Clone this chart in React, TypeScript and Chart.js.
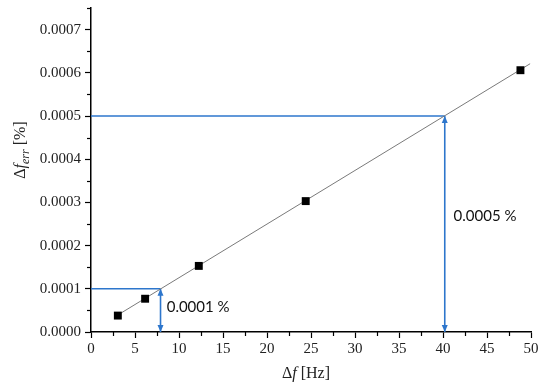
import React, { useEffect, useRef } from "react";
import { Chart, registerables } from "chart.js";

Chart.register(...registerables);

const freqs = [3.05, 6.15, 12.25, 24.4, 48.8];
const errs = [0.000038, 0.000077, 0.000153, 0.000303, 0.000606];
const fitX = [3.1, 49.9];
const fitY = [0.00004, 0.000621];
const markX = [7.9, 40.2];
const markY = [0.0001, 0.0005];
const markLabels = ["0.0001 %", "0.0005 %"];
const labelX = [8.6, 41.2];
const labelY = [0.0000575, 0.000268];
const xTickStep = 2.5;
const yTickStep = 0.00005;

const BLUE = "#2d76cc";
const SERIF = "'Liberation Serif', 'DejaVu Serif', serif";
const SANS = "Lato, 'Open Sans', sans-serif";

const overlay = {
  id: "overlay",
  afterDatasetsDraw(chart: any) {
    const ctx = chart.ctx;
    const xs = chart.scales.x;
    const ys = chart.scales.y;
    ctx.save();
    // minor ticks
    ctx.strokeStyle = "#000";
    ctx.lineWidth = 1.2;
    xs.ticks.forEach((t: any, i: number) => {
      if (i % 2 === 1) {
        const px = Math.round(xs.getPixelForValue(t.value)) + 0.5;
        ctx.beginPath();
        ctx.moveTo(px, xs.top);
        ctx.lineTo(px, xs.top + 4);
        ctx.stroke();
      }
    });
    ys.ticks.forEach((t: any, i: number) => {
      if (i % 2 === 1) {
        const py = Math.round(ys.getPixelForValue(t.value)) + 0.5;
        ctx.beginPath();
        ctx.moveTo(ys.right, py);
        ctx.lineTo(ys.right - 4, py);
        ctx.stroke();
      }
    });
    // arrowheads
    ctx.fillStyle = BLUE;
    markX.forEach((mx, i) => {
      const px = xs.getPixelForValue(mx);
      const pTop = ys.getPixelForValue(markY[i]);
      const pBot = ys.getPixelForValue(0);
      ctx.beginPath();
      ctx.moveTo(px, pTop);
      ctx.lineTo(px - 3, pTop + 7);
      ctx.lineTo(px + 3, pTop + 7);
      ctx.closePath();
      ctx.fill();
      ctx.beginPath();
      ctx.moveTo(px, pBot);
      ctx.lineTo(px - 3, pBot - 7);
      ctx.lineTo(px + 3, pBot - 7);
      ctx.closePath();
      ctx.fill();
    });
    // annotation texts
    ctx.fillStyle = "#111";
    ctx.font = `15px ${SANS}`;
    ctx.textBaseline = "middle";
    ctx.textAlign = "left";
    markLabels.forEach((s, i) => {
      ctx.fillText(s, xs.getPixelForValue(labelX[i]), ys.getPixelForValue(labelY[i]));
    });
    // axis titles
    ctx.fillStyle = "#222";
    ctx.textBaseline = "alphabetic";
    const drawParts = (parts: any[], cx: number, cy: number) => {
      let w = 0;
      parts.forEach((p) => {
        ctx.font = p.font;
        w += ctx.measureText(p.t).width;
      });
      let x = cx - w / 2;
      parts.forEach((p) => {
        ctx.font = p.font;
        ctx.fillText(p.t, x, cy + (p.dy || 0));
        x += ctx.measureText(p.t).width;
      });
    };
    drawParts(
      [
        { t: "Δ", font: `16px ${SERIF}` },
        { t: "f", font: `italic 16px ${SERIF}` },
        { t: " [Hz]", font: `16px ${SERIF}` },
      ],
      306,
      378
    );
    ctx.save();
    ctx.translate(25, 150);
    ctx.rotate(-Math.PI / 2);
    drawParts(
      [
        { t: "Δ", font: `16px ${SERIF}` },
        { t: "f", font: `italic 16px ${SERIF}` },
        { t: "err", font: `italic 12px ${SERIF}`, dy: 4 },
        { t: " [%]", font: `16px ${SERIF}` },
      ],
      0,
      0
    );
    ctx.restore();
    ctx.restore();
  },
};

export default function App() {
  const ref = useRef<HTMLCanvasElement>(null);
  useEffect(() => {
    const pts = freqs.map((f, i) => ({ x: f, y: errs[i] }));
    const fit = fitX.map((f, i) => ({ x: f, y: fitY[i] }));
    const blueSets = markX.flatMap((mx, i) => [
      {
        data: [
          { x: 0, y: markY[i] },
          { x: mx, y: markY[i] },
        ],
        borderColor: BLUE,
        borderWidth: 1.6,
        pointRadius: 0,
        showLine: true,
        order: 3,
      },
      {
        data: [
          { x: mx, y: 0 },
          { x: mx, y: markY[i] },
        ],
        borderColor: BLUE,
        borderWidth: 1.6,
        pointRadius: 0,
        showLine: true,
        order: 3,
      },
    ]);
    const chart = new Chart(ref.current!, {
      type: "scatter",
      data: {
        datasets: [
          {
            data: pts,
            pointStyle: "rect",
            pointRadius: 5.6,
            pointBackgroundColor: "#000",
            pointBorderColor: "#000",
            pointBorderWidth: 0,
            showLine: false,
            order: 1,
          },
          {
            data: fit,
            borderColor: "#7a7a7a",
            borderWidth: 1,
            pointRadius: 0,
            showLine: true,
            order: 2,
          },
          ...blueSets,
        ] as any,
      },
      options: {
        animation: false,
        responsive: false,
        layout: { padding: { top: 8, right: 19, left: 0, bottom: 0 } },
        plugins: { legend: { display: false }, tooltip: { enabled: false } },
        scales: {
          x: {
            type: "linear",
            min: 0,
            max: 50,
            afterFit: (s: any) => {
              s.height = 57;
              s.paddingLeft = 0;
              s.paddingRight = 0;
            },
            border: { display: true, color: "#000", width: 1.5 },
            grid: {
              drawOnChartArea: false,
              drawTicks: true,
              tickLength: 6,
              tickWidth: 1.2,
              tickColor: (c: any) => (c.index % 2 === 0 ? "#000" : "rgba(0,0,0,0)"),
            },
            ticks: {
              stepSize: xTickStep,
              autoSkip: false,
              maxRotation: 0,
              padding: 2,
              color: "#222",
              font: { family: SERIF, size: 15 },
              callback: (v: any, i: number) => (i % 2 === 0 ? String(Math.round(Number(v))) : ""),
            },
          },
          y: {
            type: "linear",
            min: 0,
            max: 0.00075,
            afterFit: (s: any) => {
              s.width = 91;
              s.paddingTop = 0;
              s.paddingBottom = 0;
            },
            border: { display: true, color: "#000", width: 1.5 },
            grid: {
              drawOnChartArea: false,
              drawTicks: true,
              tickLength: 6,
              tickWidth: 1.2,
              tickColor: (c: any) => (c.index % 2 === 0 ? "#000" : "rgba(0,0,0,0)"),
            },
            ticks: {
              stepSize: yTickStep,
              autoSkip: false,
              padding: 4,
              color: "#222",
              font: { family: SERIF, size: 15 },
              callback: (v: any, i: number) => (i % 2 === 0 ? Number(v).toFixed(4) : ""),
            },
          },
        },
      },
      plugins: [overlay],
    });
    return () => chart.destroy();
  }, []);
  return (
    <div style={{ position: "fixed", left: 0, top: 0, width: 550, height: 389, background: "#fff" }}>
      <canvas ref={ref} width={550} height={389} style={{ width: 550, height: 389 }} />
    </div>
  );
}
